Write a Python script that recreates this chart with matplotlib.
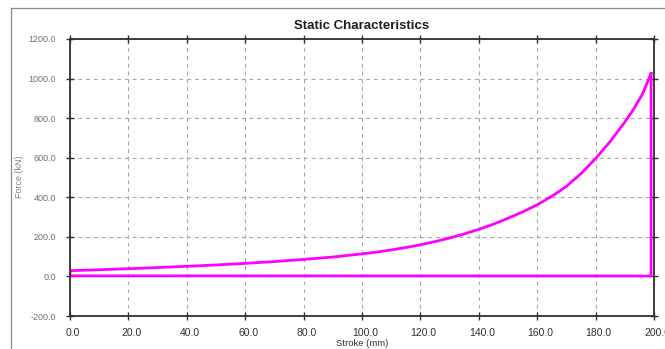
import matplotlib
matplotlib.use("Agg")
import matplotlib.pyplot as plt
import matplotlib.transforms as mtransforms
from matplotlib.lines import Line2D

plt.rcParams.update({"font.family": ["Liberation Sans", "DejaVu Sans"]})

# loading branch
stroke = [0, 10, 20, 30, 40, 50, 60, 70, 80, 90, 100, 105, 110, 115, 120,
          125, 130, 135, 140, 145, 150, 155, 160, 165, 170, 175, 180, 185,
          190, 193, 196, 199]
force = [29, 34, 39, 45, 51, 58, 66, 75, 86, 98, 114, 123, 134, 146, 160,
         176, 194, 215, 238, 264, 294, 326, 362, 405, 455, 520, 596, 682,
         780, 845, 920, 1026]
# return branch: drop at end of stroke, then back along zero
return_stroke = [199, 199, 0, 0]
return_force = [1026, 2, 3, 29]

xticks = [0, 20, 40, 60, 80, 100, 120, 140, 160, 180, 200]
yticks = [-200, 0, 200, 400, 600, 800, 1000, 1200]

W, H = 665, 349
fig = plt.figure(figsize=(W / 100, H / 100), dpi=100)
ax = fig.add_axes([70 / W, 1 - 316 / H, (654 - 70) / W, (316 - 39) / H])

# outer window frame
fig.add_artist(Line2D([11 / W, 11 / W], [0, 1 - 8 / H], color="#8a8a8a", lw=0.9,
                      transform=fig.transFigure))
fig.add_artist(Line2D([11 / W, 1], [1 - 8 / H, 1 - 8 / H], color="#8a8a8a", lw=0.9,
                      transform=fig.transFigure))

line_kw = dict(color="#ff00ff", lw=2.0, solid_joinstyle="round")
ax.plot(stroke, force, **line_kw)
ax.plot(return_stroke, return_force, **line_kw)

ax.set_xlim(0, 200)
ax.set_ylim(-200, 1200)
ax.set_xticks(xticks)
ax.set_yticks(yticks)
ax.set_xticklabels([f"{v:.1f}" for v in xticks], fontsize=7.5, color="#303030")
ax.set_yticklabels([f"{v:.1f}" for v in yticks], fontsize=6.5, color="#707070")
ax.tick_params(direction="inout", length=6, width=1.0, color="#303030",
               top=True, right=True)
ax.tick_params(axis="x", pad=6)
ax.tick_params(axis="y", pad=7)
shift = mtransforms.ScaledTranslation(3 / 100, 0, fig.dpi_scale_trans)
for lab in ax.get_xticklabels():
    lab.set_transform(lab.get_transform() + shift)
ax.grid(True, color="#a8a8a8", linestyle=(0, (3.5, 3.5)), linewidth=0.8)
for sp in ax.spines.values():
    sp.set_color("#303030")
    sp.set_linewidth(1.3)

ax.set_title("Static Characteristics", fontsize=9.5, fontweight="bold",
             color="#202020", pad=7)
ax.set_xlabel("Stroke (mm)", fontsize=6.8, color="#303030", labelpad=0)
fig.text(20 / W, 1 - 177 / H, "Force (kN)", rotation=90, fontsize=6.5,
         color="#808080", ha="center", va="center")

fig.savefig("out.png", dpi=100)
